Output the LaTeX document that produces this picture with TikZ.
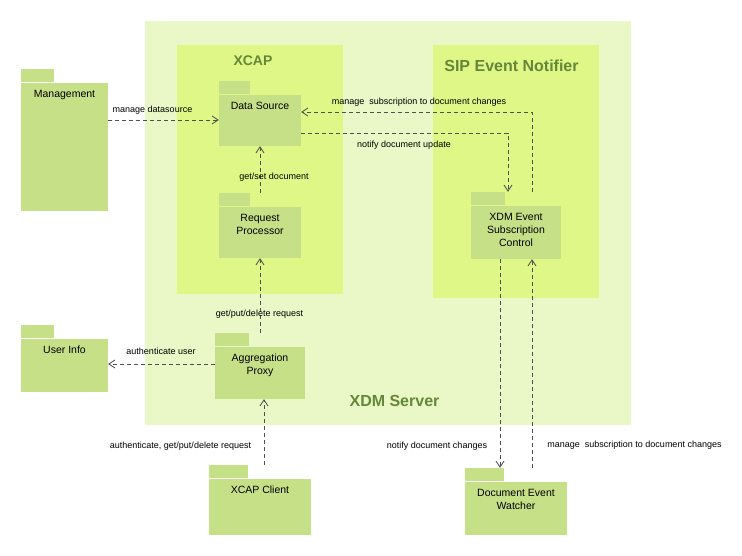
\documentclass[tikz,border=0pt]{standalone}
\usepackage{fontspec}
\setmainfont{Liberation Sans}
\usetikzlibrary{arrows.meta,calc}
\definecolor{srvc}{HTML}{E9F8C6}
\definecolor{subc}{HTML}{DFF787}
\definecolor{pkgc}{HTML}{C6E087}
\definecolor{titc}{HTML}{66873A}
\definecolor{depc}{HTML}{505050}
\tikzset{
  tabw/.store in=\tabw, tabw=33pt,
  pkg/.style={rectangle, inner sep=0pt, draw=none,
    path picture={
      \fill[pkgc] (path picture bounding box.north west) rectangle
        ([xshift=\tabw, yshift=-13pt]path picture bounding box.north west);
      \fill[pkgc] ([yshift=-14pt]path picture bounding box.north west) rectangle
        (path picture bounding box.south east);
    }},
  pkgtxt/.style={inner sep=0pt, anchor=north, align=center,
    font=\fontsize{10.5}{13}\selectfont},
  lbl/.style={inner sep=0pt, font=\fontsize{9}{11}\selectfont},
  title/.style={inner sep=0pt, text=titc, font=\bfseries},
  dep/.style={draw=depc, line width=0.8pt, dash pattern=on 4pt off 3pt,
    -{Straight Barb[length=6pt,width=8pt,line width=0.8pt]}},
}
\begin{document}
\begin{tikzpicture}[x=1pt,y=-1pt]
\useasboundingbox (0,0) rectangle (742,556);
% containers
\fill[srvc] (145,21) rectangle (631,425);
\fill[subc] (177,45) rectangle (343,294);
\fill[subc] (433,45) rectangle (599,298);
\node[title, font=\bfseries\fontsize{14}{16}\selectfont] (t-xcap) at (253,61) {XCAP};
\node[title, font=\bfseries\fontsize{16}{18}\selectfont] (t-sip) at (511.5,65.5) {SIP Event Notifier};
\node[title, font=\bfseries\fontsize{16}{18}\selectfont] (t-xdm) at (394.5,401) {XDM Server};
% packages
\node[pkg, tabw=33pt, minimum width=87pt, minimum height=142pt] (mg) at (64.5,140) {};
\node[pkgtxt] (mg-t) at ([yshift=-21pt]mg.north) {Management};
\node[pkg, tabw=31pt, minimum width=82pt, minimum height=65pt] (ds) at (260,113.5) {};
\node[pkgtxt] (ds-t) at ([yshift=-21pt]ds.north) {Data Source};
\node[pkg, tabw=31pt, minimum width=82pt, minimum height=65pt] (rp) at (260,225.5) {};
\node[pkgtxt] (rp-t) at ([yshift=-21pt]rp.north) {Request\\Processor};
\node[pkg, tabw=34pt, minimum width=90pt, minimum height=67pt] (ctl) at (516,225.5) {};
\node[pkgtxt] (ctl-t) at ([yshift=-21pt]ctl.north) {XDM Event\\Subscription\\Control};
\node[pkg, tabw=33pt, minimum width=87pt, minimum height=67pt] (ui) at (64.5,358.5) {};
\node[pkgtxt] (ui-t) at ([yshift=-21pt]ui.north) {User Info};
\node[pkg, tabw=34pt, minimum width=90pt, minimum height=66pt] (ap) at (260,366) {};
\node[pkgtxt] (ap-t) at ([yshift=-21pt]ap.north) {Aggregation\\Proxy};
\node[pkg, tabw=39pt, minimum width=102pt, minimum height=70pt] (cl) at (260,500) {};
\node[pkgtxt] (cl-t) at ([yshift=-21pt]cl.north) {XCAP Client};
\node[pkg, tabw=39pt, minimum width=102pt, minimum height=67pt] (dw) at (516,501.5) {};
\node[pkgtxt] (dw-t) at ([yshift=-21pt]dw.north) {Document Event\\Watcher};
% connectors
\draw[dep] (mg.east |- 0,120) -- (ds.west |- 0,120);
\draw[dep] (ctl.north -| 532,0) |- (ds.east |- 0,112);
\draw[dep] (ds.east |- 0,133) -| (ctl.north -| 508,0);
\draw[dep] (rp.north) -- (ds.south);
\draw[dep] (ap.north) -- (rp.south);
\draw[dep] (ap.west |- 0,364) -- (ui.east |- 0,364);
\draw[dep] (cl.north -| 264,0) -- (ap.south -| 264,0);
\draw[dep] (ctl.south -| 500,0) -- (dw.north -| 500,0);
\draw[dep] (dw.north -| 532,0) -- (ctl.south -| 532,0);
% labels
\node[lbl] (l1) at (152.5,110) {manage datasource};
\node[lbl] (l2) at (419,102) {manage\ \ subscription to document changes};
\node[lbl] (l3) at (404,145) {notify document update};
\node[lbl] (l4) at (274,177) {get/set document};
\node[lbl] (l5) at (259.5,314) {get/put/delete request};
\node[lbl] (l6) at (161,351) {authenticate user};
\node[lbl] (l7) at (180.5,446) {authenticate, get/put/delete request};
\node[lbl] (l8) at (437,446) {notify document changes};
\node[lbl] (l9) at (634.5,445) {manage\ \ subscription to document changes};
\end{tikzpicture}
\end{document}
